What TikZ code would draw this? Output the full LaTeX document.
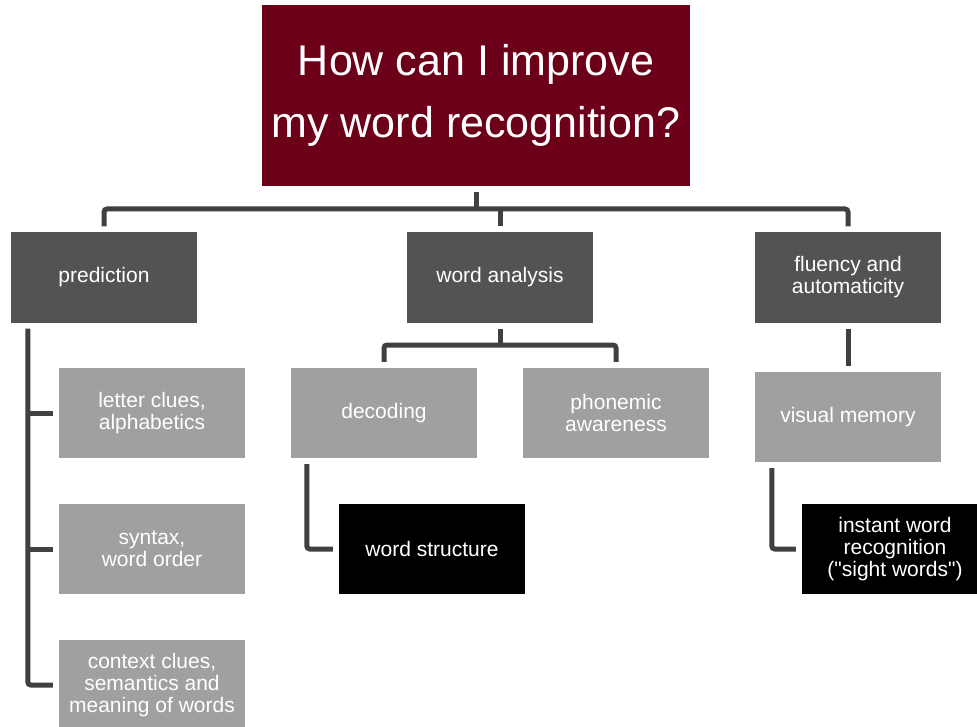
\documentclass[tikz,border=0pt]{standalone}
\usepackage{fontspec}
\setmainfont{Liberation Sans}
\definecolor{questionRed}{RGB}{109, 0, 25}
\definecolor{topicGray}{RGB}{84, 83, 84}
\definecolor{skillGray}{RGB}{160, 160, 160}
\definecolor{linkGray}{RGB}{64, 64, 64}
\usetikzlibrary{positioning, calc}

\begin{document}
\begin{tikzpicture}[x=1pt, y=-1pt,
    box/.style={minimum width=186pt, minimum height=90pt, inner sep=2pt, align=center,
      text=white, font=\fontsize{21}{22}\selectfont},
    topic/.style={box, fill=topicGray},
    skill/.style={box, fill=skillGray},
    leaf/.style={box, fill=black},
    link/.style={draw=linkGray, line width=5pt, rounded corners=3pt}]
    \clip (0,0) rectangle (977,727);
    \fill[white] (0,0) rectangle (977,727);

    % question
    \node[fill=questionRed, minimum width=428pt, minimum height=181pt, align=center, text=white,
      font=\fontsize{43}{62}\selectfont] (question) at (476,95.5)
      {How can I improve\\my word recognition?};

    % main topics
    \node[topic] (pred) at (104,277.5) {prediction};
    \node[topic] (wa) at (500,277.5) {word analysis};
    \node[topic] (flu) at (848,277.5) {fluency and\\automaticity};

    % skills
    \node[skill] (letter) at (152,413) {letter clues,\\alphabetics};
    \node[skill] (syntax) at (152,549) {syntax,\\word order};
    \node[skill] (context) at (152,685) {context clues,\\semantics and\\meaning of words};
    \node[skill] (dec) at (384,413) {decoding};
    \node[skill] (pho) at (616,413) {phonemic\\awareness};
    \node[skill] (vis) at (848,417) {visual memory};

    % leaves
    \node[leaf] (struct) at (432,549) {word structure};
    \node[leaf] (sight) at (895,549) {instant word\\recognition\\(\textquotedbl sight words\textquotedbl)};

    % connectors
    \coordinate (bus) at (476,209);
    \coordinate (wabus) at (500,345);
    \coordinate (spine) at ([xshift=17pt,yshift=-6pt]pred.south west);
    \draw[link] ([yshift=-6pt]question.south) -- (bus);
    \draw[link] ([yshift=6pt]pred.north) |- (bus) -| ([yshift=6pt]flu.north);
    \draw[link] ([yshift=6pt]wa.north) -- (wa.north |- bus);

    \draw[link] (spine) |- ([xshift=-6pt]context.west);
    \draw[link] (spine |- letter.west) -- ([xshift=-6pt]letter.west);
    \draw[link] (spine |- syntax.west) -- ([xshift=-6pt]syntax.west);

    \draw[link] ([yshift=-6pt]wa.south) -- (wabus);
    \draw[link] ([yshift=6pt]dec.north) |- (wabus) -| ([yshift=6pt]pho.north);
    \draw[link] ([xshift=16pt,yshift=-6pt]dec.south west) |- ([xshift=-6pt]struct.west);

    \draw[link] ([yshift=-6pt]flu.south) -- ([yshift=6pt]vis.north);
    \draw[link] ([xshift=17pt,yshift=-6pt]vis.south west) |- ([xshift=-6pt]sight.west);
  \end{tikzpicture}
\end{document}
